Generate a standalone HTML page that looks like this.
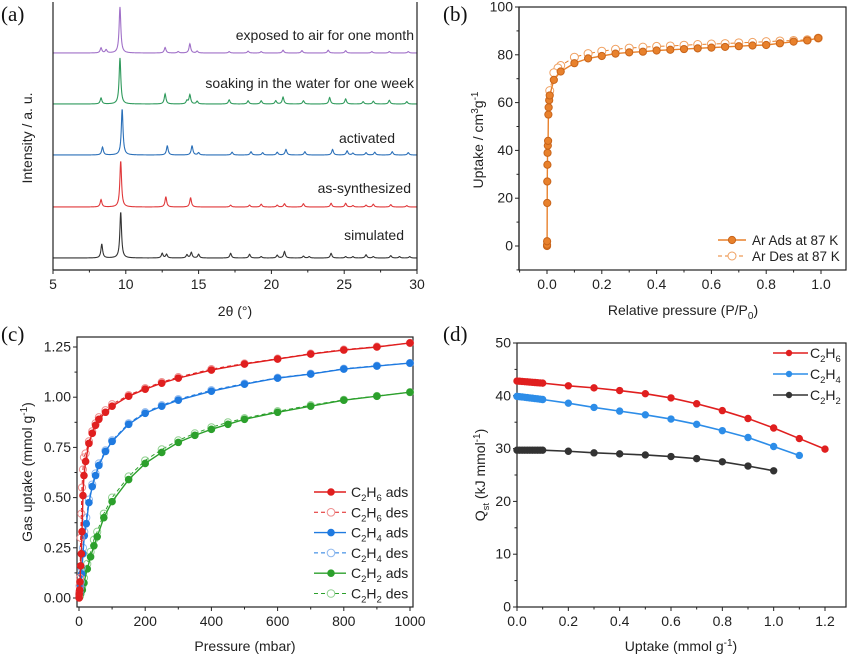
<!DOCTYPE html>
<html><head><meta charset="utf-8"><style>
body{margin:0;background:#fff}
svg{display:block;font-family:"Liberation Sans",sans-serif}
</style></head><body>
<svg id="s" width="847" height="656" viewBox="0 0 847 656"></svg>
<script>
// ---------- (a) XRD data ----------
const xrdNames=["simulated","as-synthesized","activated","soaking in the water for one week","exposed to air for one month"];
const xrdColors=["#333333","#e0383a","#2a6fb8","#2f9a5c","#a070c8"];
const xrdPeakPos=[
[8.35,9.65,12.5,12.8,14.2,14.5,15.0,17.2,18.5,19.3,20.4,20.9,22.2,22.6,24.1,25.1,25.6,26.5,27.0,28.2,28.8,29.5],
[8.3,9.65,12.75,14.45,17.2,18.5,19.3,20.4,20.9,22.2,24.1,25.1,25.6,26.5,27.0,28.2,29.3],
[8.4,9.75,12.85,14.55,15.0,17.3,18.6,19.4,20.4,21.0,22.3,24.2,25.2,25.6,26.5,27.1,28.3,29.4],
[8.3,9.6,12.7,14.2,14.4,14.9,17.1,18.4,19.3,20.3,20.8,22.2,24.0,25.1,26.3,27.0,28.1,29.3],
[8.3,8.65,9.6,12.7,13.6,14.4,14.9,17.1,18.4,19.3,20.8,22.1,23.9,25.1,26.9,28.1,29.4]];
const xrdPeakH=[
[0.3,1.0,0.1,0.08,0.07,0.12,0.08,0.1,0.08,0.03,0.06,0.14,0.04,0.03,0.1,0.03,0.03,0.07,0.03,0.05,0.03,0.03],
[0.16,1.0,0.22,0.2,0.04,0.04,0.06,0.04,0.07,0.07,0.08,0.08,0.03,0.04,0.06,0.05,0.03],
[0.17,1.0,0.2,0.2,0.05,0.06,0.07,0.05,0.06,0.12,0.07,0.12,0.09,0.04,0.05,0.06,0.07,0.05],
[0.13,1.0,0.22,0.07,0.2,0.06,0.09,0.07,0.07,0.07,0.15,0.07,0.14,0.11,0.05,0.06,0.08,0.05],
[0.11,0.07,1.0,0.12,0.03,0.2,0.04,0.03,0.04,0.03,0.06,0.05,0.06,0.05,0.03,0.03,0.03]];
const xrdTicks=[5,10,15,20,25,30];
// ---------- (b) Ar isotherm ----------
const arAdsX=[0.0001,0.0002,0.0004,0.0008,0.001,0.0015,0.002,0.003,0.004,0.005,0.006,0.008,0.01,0.025,0.05,0.1,0.15,0.2,0.25,0.3,0.35,0.4,0.45,0.5,0.55,0.6,0.65,0.7,0.75,0.8,0.85,0.9,0.95,0.99];
const arAdsY=[0,0.5,2,18,27,34,39,42,44,55,58,61,63,69.5,73,76.5,78.5,79.5,80.5,81,81.3,81.8,82.1,82.4,82.7,83,83.3,83.6,83.9,84.1,84.8,85.5,86,87];
const arDesX=[0.99,0.95,0.9,0.85,0.8,0.75,0.7,0.65,0.6,0.55,0.5,0.45,0.4,0.35,0.3,0.25,0.2,0.15,0.1,0.05,0.04,0.025,0.01];
const arDesY=[87,86.3,86,85.8,85.5,85.2,85,84.7,84.5,84.3,84,83.7,83.5,83.2,82.8,82.3,81.5,80.5,79,75.5,74.5,72.5,65];
const bXTicks=[0,0.2,0.4,0.6,0.8,1.0];
const bYTicks=[0,20,40,60,80,100];
// ---------- (c) gas isotherms ----------
const c6X=[0.5,1,2,3,5,7,9,12,15,20,30,40,50,60,80,100,150,200,250,300,400,500,600,700,800,900,1000];
const c6Y=[0,0.02,0.04,0.08,0.16,0.22,0.33,0.51,0.61,0.68,0.77,0.82,0.86,0.89,0.925,0.955,1.005,1.04,1.07,1.095,1.135,1.165,1.19,1.215,1.235,1.25,1.27];
const c6DY=[0.01,0.03,0.06,0.1,0.3,0.42,0.55,0.64,0.7,0.72,0.78,0.83,0.87,0.9,0.935,0.965,1.01,1.045,1.075,1.1,1.14,1.168,1.192,1.217,1.237,1.252,1.27];
const c4X=[1,3,5,8,12,16,22,30,40,50,60,80,100,150,200,250,300,400,500,600,700,800,900,1000];
const c4Y=[0.01,0.03,0.06,0.12,0.22,0.31,0.37,0.475,0.555,0.61,0.66,0.73,0.78,0.865,0.92,0.955,0.985,1.03,1.065,1.095,1.115,1.14,1.155,1.17];
const c4DY=[0.02,0.05,0.08,0.15,0.25,0.33,0.4,0.49,0.565,0.62,0.67,0.735,0.785,0.87,0.925,0.96,0.99,1.035,1.068,1.097,1.117,1.142,1.157,1.17];
const c2X=[2,5,10,15,25,35,45,55,75,100,150,200,250,300,350,400,450,500,600,700,800,900,1000];
const c2Y=[0.005,0.02,0.04,0.075,0.145,0.205,0.26,0.305,0.4,0.48,0.59,0.67,0.725,0.775,0.81,0.84,0.865,0.89,0.925,0.955,0.985,1.005,1.025];
const c2DY=[0.01,0.03,0.06,0.1,0.17,0.23,0.29,0.33,0.42,0.5,0.605,0.685,0.74,0.785,0.82,0.85,0.875,0.895,0.93,0.96,0.987,1.006,1.025];
const cXTicks=[0,200,400,600,800,1000];
const cYTicks=[0,0.25,0.5,0.75,1.0,1.25];
const cYLabels=["0.00","0.25","0.50","0.75","1.00","1.25"];
// ---------- (d) Qst ----------
const dX6=[0,0.01,0.02,0.03,0.04,0.05,0.06,0.07,0.08,0.09,0.1,0.2,0.3,0.4,0.5,0.6,0.7,0.8,0.9,1.0,1.1,1.2];
const dY6=[42.8,42.76,42.72,42.68,42.64,42.6,42.56,42.52,42.48,42.44,42.4,41.9,41.5,41,40.4,39.6,38.5,37.2,35.7,33.9,31.9,29.9];
const dX4=[0,0.01,0.02,0.03,0.04,0.05,0.06,0.07,0.08,0.09,0.1,0.2,0.3,0.4,0.5,0.6,0.7,0.8,0.9,1.0,1.1];
const dY4=[39.9,39.84,39.78,39.72,39.66,39.6,39.54,39.48,39.42,39.36,39.3,38.6,37.8,37.1,36.4,35.6,34.6,33.4,32.1,30.4,28.7];
const dX2=[0,0.01,0.02,0.03,0.04,0.05,0.06,0.07,0.08,0.09,0.1,0.2,0.3,0.4,0.5,0.6,0.7,0.8,0.9,1.0];
const dY2=[29.7,29.7,29.7,29.7,29.7,29.7,29.7,29.7,29.7,29.7,29.7,29.5,29.2,29,28.8,28.5,28.1,27.5,26.7,25.8];
const dXTicks=[0,0.2,0.4,0.6,0.8,1.0,1.2];
const dYTicks=[0,10,20,30,40,50];

const S=document.getElementById('s');const NS="http://www.w3.org/2000/svg";
function mk(tag,at,parent,txt){const e=document.createElementNS(NS,tag);for(const k in at)e.setAttribute(k,at[k]);if(txt!==undefined)e.textContent=txt;(parent||S).appendChild(e);return e;}
function lin(d0,d1,r0,r1){return v=>r0+(v-d0)*(r1-r0)/(d1-d0);}
function frame(g,L,R,T,B){const r=mk('rect',{x:L,y:T,width:R-L,height:B-T,fill:'none',stroke:'#222','stroke-width':1.2},g);}
function xAxis(g,ticks,labels,X,B,minor){ticks.forEach((t,i)=>{mk('line',{x1:X(t),x2:X(t),y1:B,y2:B+4,stroke:'#222'},g);const tx=mk('text',{x:X(t),y:B+19,'font-size':14,'text-anchor':'middle',fill:'#222'},g,labels[i]);});
 if(minor)minor.forEach(t=>mk('line',{x1:X(t),x2:X(t),y1:B,y2:B+2.5,stroke:'#222'},g));}
function yAxis(g,ticks,labels,Y,L,minor){ticks.forEach((t,i)=>{mk('line',{x1:L-4,x2:L,y1:Y(t),y2:Y(t),stroke:'#222'},g);const tx=mk('text',{x:L-6,y:Y(t)+4.5,'font-size':14,'text-anchor':'end',fill:'#222'},g,labels[i]);});
 if(minor)minor.forEach(t=>mk('line',{x1:L-2.5,x2:L,y1:Y(t),y2:Y(t),stroke:'#222'},g));}
function poly(g,xs,ys,X,Y,col,w,dash,name){const p=mk('polyline',{points:xs.map((x,i)=>X(x).toFixed(2)+','+Y(ys[i]).toFixed(2)).join(' '),fill:'none',stroke:col,'stroke-width':w,'stroke-dasharray':dash||'none'},g);}
function dots(g,xs,ys,X,Y,fill,stroke,r,name){xs.forEach((x,i)=>{const c=mk('circle',{cx:X(x),cy:Y(ys[i]),r:r,fill:fill,stroke:stroke,'stroke-width':1},g);});}
function plabel(t,x,y){const e=mk('text',{x:x,y:y,'font-size':21,'font-family':'Liberation Serif, serif',fill:'#111'},S,t);}

// ===== Panel a =====
(function(){const g=mk('g',{});
const L=53,R=417,T=2,B=270;const X=lin(5,30,L,R);
const bases=[258,207,155,104,53];const amp=46;const gam=0.07;
xrdNames.forEach((n,s)=>{const pts=[];for(let x=5;x<=30;x+=0.02){let v=0;xrdPeakPos[s].forEach((p,k)=>{v+=xrdPeakH[s][k]/(1+((x-p)/gam)**2);});pts.push(X(x).toFixed(2)+','+(bases[s]-amp*v).toFixed(2));}
 const pl=mk('polyline',{points:pts.join(' '),fill:'none',stroke:xrdColors[s],'stroke-width':1.1},g);});
const lab=[[404,240],[411,193],[395,143],[414,88],[414,40]];
xrdNames.forEach((n,s)=>{const t=mk('text',{x:lab[s][0],y:lab[s][1],'font-size':14,'text-anchor':'end',fill:'#222'},g,n);});
mk('line',{x1:L,x2:L,y1:T,y2:B,stroke:'#222','stroke-width':1.2},g);mk('line',{x1:R,x2:R,y1:T,y2:B,stroke:'#222','stroke-width':1.2},g);mk('line',{x1:L,x2:R,y1:B,y2:B,stroke:'#222','stroke-width':1.2},g);
xAxis(g,xrdTicks,xrdTicks.map(String),X,B,[7.5,12.5,17.5,22.5,27.5]);
let t=mk('text',{x:235,y:316,'font-size':14,'text-anchor':'middle',fill:'#222'},g,'2θ (°)');
t=mk('text',{x:0,y:0,'font-size':14,'text-anchor':'middle',fill:'#222',transform:'translate(32,138) rotate(-90)'},g,'Intensity / a. u.');
})();
plabel('(a)',1,21);

// ===== Panel b =====
(function(){const g=mk('g',{});
const L=519,R=846,T=7,B=270;const X=lin(0,1,547,821);const Y=lin(0,100,246,7);
frame(g,L,R,T,B);
mk('line',{x1:L,x2:L,y1:T,y2:B,stroke:'#222','stroke-width':1.2},g);
xAxis(g,bXTicks,bXTicks.map(v=>v.toFixed(1)),X,B,[-0.1,0.1,0.3,0.5,0.7,0.9,1.1]);
yAxis(g,bYTicks,bYTicks.map(String),Y,L,[-10,10,30,50,70,90]);
const oc='#e8812c',od='#c8641a';
poly(g,arDesX,arDesY,X,Y,oc,1,'4,3','ar-des-line');
dots(g,arDesX,arDesY,X,Y,'#fff','#f0a060',4,'ar-des-point');
poly(g,arAdsX,arAdsY,X,Y,oc,1.4,null,'ar-ads-line');
dots(g,arAdsX,arAdsY,X,Y,oc,od,3.6,'ar-ads-point');
mk('line',{x1:718,x2:746,y1:240,y2:240,stroke:oc,'stroke-width':1.4},g);mk('circle',{cx:732,cy:240,r:3.6,fill:oc,stroke:od},g);
mk('line',{x1:718,x2:746,y1:256,y2:256,stroke:oc,'stroke-dasharray':'4,3'},g);mk('circle',{cx:732,cy:256,r:4,fill:'#fff',stroke:'#f0a060'},g);
let t=mk('text',{x:752,y:245,'font-size':13.5,fill:'#222'},g,'Ar Ads at 87 K');
t=mk('text',{x:752,y:261,'font-size':13.5,fill:'#222'},g,'Ar Des at 87 K');
t=mk('text',{x:683,y:315,'font-size':14,'text-anchor':'middle',fill:'#222'},g);t.innerHTML='Relative pressure (P/P<tspan font-size="10" dy="4">0</tspan><tspan dy="-4">)</tspan>';
t=mk('text',{x:0,y:0,'font-size':14,'text-anchor':'middle',fill:'#222',transform:'translate(483,140) rotate(-90)'},g);t.innerHTML='Uptake / cm<tspan font-size="10" dy="-5">3</tspan><tspan dy="5">g</tspan><tspan font-size="10" dy="-5">-1</tspan>';
})();
plabel('(b)',443,21);

// ===== Panel c =====
(function(){const g=mk('g',{});
const L=77,R=413,T=337,B=607;const X=lin(0,1000,79,410);const Y=lin(0,1.25,598,347);
frame(g,L,R,T,B);
xAxis(g,cXTicks,cXTicks.map(String),X,B,[100,300,500,700,900]);
yAxis(g,cYTicks,cYLabels,Y,L,[0.125,0.375,0.625,0.875,1.125]);
const sets=[[c2X,c2Y,c2DY,'#2ca02c','#8fd08f','c2h2'],[c4X,c4Y,c4DY,'#1f7ae0','#8fb8ee','c2h4'],[c6X,c6Y,c6DY,'#e01f1f','#ee8f8f','c2h6']];
sets.forEach(s=>{poly(g,s[0],s[2],X,Y,s[3],1,'4,3',s[5]+'-des-line');dots(g,s[0],s[2],X,Y,'none',s[4],3.6,s[5]+'-des-point');poly(g,s[0],s[1],X,Y,s[3],1.4,null,s[5]+'-ads-line');dots(g,s[0],s[1],X,Y,s[3],s[3],3.3,s[5]+'-ads-point');});
const leg=[['#e01f1f','#ee8f8f','6','ads'],['#e01f1f','#ee8f8f','6','des'],['#1f7ae0','#8fb8ee','4','ads'],['#1f7ae0','#8fb8ee','4','des'],['#2ca02c','#8fd08f','2','ads'],['#2ca02c','#8fd08f','2','des']];
leg.forEach((l,i)=>{const y=492+i*20.3;const ads=l[3]==='ads';mk('line',{x1:314,x2:346,y1:y,y2:y,stroke:l[0],'stroke-width':ads?1.4:1,'stroke-dasharray':ads?'none':'4,3'},g);mk('circle',{cx:331,cy:y,r:ads?3.3:3.8,fill:ads?l[0]:'#fff',stroke:ads?l[0]:l[1]},g);
 const t=mk('text',{x:351,y:y+5,'font-size':14,fill:'#222'},g);t.innerHTML='C<tspan font-size="9.5" dy="4">2</tspan><tspan dy="-4">H</tspan><tspan font-size="9.5" dy="4">'+l[2]+'</tspan><tspan dy="-4"> '+l[3]+'</tspan>';});
let t=mk('text',{x:245,y:651,'font-size':14,'text-anchor':'middle',fill:'#222'},g,'Pressure (mbar)');
t=mk('text',{x:0,y:0,'font-size':14,'text-anchor':'middle',fill:'#222',transform:'translate(32,472) rotate(-90)'},g);t.innerHTML='Gas uptake (mmol g<tspan font-size="10" dy="-5">-1</tspan><tspan dy="5">)</tspan>';
})();
plabel('(c)',1,341);

// ===== Panel d =====
(function(){const g=mk('g',{});
const L=517,R=846,T=343,B=607;const X=lin(0,1.2,517,825);const Y=lin(0,50,607,343);
frame(g,L,R,T,B);
xAxis(g,dXTicks,dXTicks.map(v=>v.toFixed(1)),X,B,[0.1,0.3,0.5,0.7,0.9,1.1]);
yAxis(g,dYTicks,dYTicks.map(String),Y,L,[5,15,25,35,45]);
const sets=[[dX2,dY2,'#333333','c2h2'],[dX4,dY4,'#2d8de8','c2h4'],[dX6,dY6,'#e01f1f','c2h6']];
sets.forEach(s=>{poly(g,s[0],s[1],X,Y,s[2],1.6,null,s[3]+'-qst-line');dots(g,s[0],s[1],X,Y,s[2],s[2],3.2,s[3]+'-qst-point');});
const leg=[['#e01f1f','6'],['#2d8de8','4'],['#333333','2']];
leg.forEach((l,i)=>{const y=353+i*21;mk('line',{x1:773,x2:808,y1:y,y2:y,stroke:l[0],'stroke-width':1.6},g);mk('circle',{cx:789,cy:y,r:3.2,fill:l[0]},g);
 const t=mk('text',{x:810,y:y+5,'font-size':14,fill:'#222'},g);t.innerHTML='C<tspan font-size="9.5" dy="4">2</tspan><tspan dy="-4">H</tspan><tspan font-size="9.5" dy="4">'+l[1]+'</tspan>';});
let t=mk('text',{x:681,y:651,'font-size':14,'text-anchor':'middle',fill:'#222'},g);t.innerHTML='Uptake (mmol g<tspan font-size="10" dy="-5">-1</tspan><tspan dy="5">)</tspan>';
t=mk('text',{x:0,y:0,'font-size':14,'text-anchor':'middle',fill:'#222',transform:'translate(485,475) rotate(-90)'},g);t.innerHTML='Q<tspan font-size="9.5" dy="4">st</tspan><tspan dy="-4"> (kJ mmol</tspan><tspan font-size="10" dy="-5">-1</tspan><tspan dy="5">)</tspan>';
})();
plabel('(d)',443,341);
</script>
</body></html>
